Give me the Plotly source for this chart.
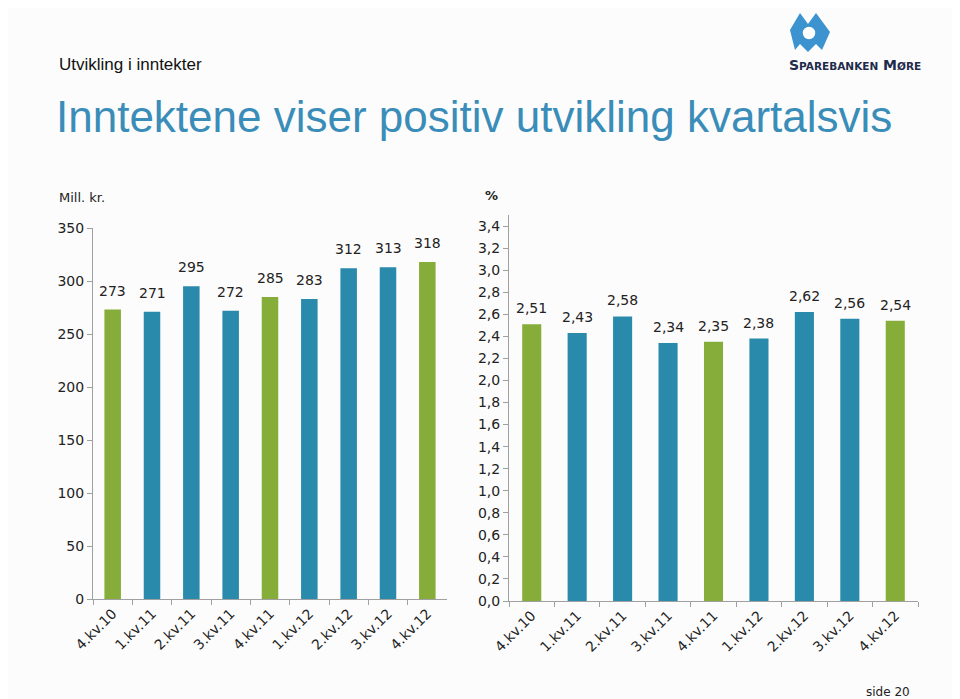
import plotly.graph_objects as go

categories = ["4.kv.10", "1.kv.11", "2.kv.11", "3.kv.11", "4.kv.11", "1.kv.12", "2.kv.12", "3.kv.12", "4.kv.12"]
income_mill = [273, 271, 295, 272, 285, 283, 312, 313, 318]
income_pct = [2.51, 2.43, 2.58, 2.34, 2.35, 2.38, 2.62, 2.56, 2.54]
left_ticks = [0, 50, 100, 150, 200, 250, 300, 350]
right_ticks = [round(i * 0.2, 1) for i in range(18)]

W, H = 960, 699
OFF = 8  # page body offset
GREEN = "#86AD3A"
BLUE = "#2A8AAB"
colors = [GREEN if c.startswith("4.") else BLUE for c in categories]

def px(x):
    return (x - OFF) / W

def py(y):
    return 1 - (y - OFF) / H

fig = go.Figure()
fig.add_trace(go.Bar(x=categories, y=income_mill, marker=dict(color=colors, line=dict(width=0)),
                     xaxis="x", yaxis="y", hoverinfo="skip"))
fig.add_trace(go.Bar(x=categories, y=income_pct, marker=dict(color=colors, line=dict(width=0)),
                     xaxis="x2", yaxis="y2", hoverinfo="skip"))

ann = []
label_font = dict(family="DejaVu Sans, Verdana", size=14, color="#222")
for c, v in zip(categories, income_mill):
    ann.append(dict(x=c, y=v, xref="x", yref="y", text=str(v), showarrow=False,
                    yshift=19, font=label_font))
for c, v in zip(categories, income_pct):
    ann.append(dict(x=c, y=v, xref="x2", yref="y2", text=f"{v:.2f}".replace(".", ","),
                    showarrow=False, yshift=16, font=label_font))

sc = '<span style="font-size:10.5px">'
ann += [
    dict(x=px(57), y=py(64), xref="paper", yref="paper", text="Utvikling i inntekter",
         showarrow=False, xanchor="left", yanchor="middle",
         font=dict(family="Liberation Sans, Arial", size=17, color="#111")),
    dict(x=px(54), y=py(116), xref="paper", yref="paper",
         text="Inntektene viser positiv utvikling kvartalsvis",
         showarrow=False, xanchor="left", yanchor="middle",
         font=dict(family="Liberation Sans, Arial", size=44, color="#3A8DB8")),
    dict(x=px(57), y=py(197), xref="paper", yref="paper", text="Mill. kr.",
         showarrow=False, xanchor="left", yanchor="middle",
         font=dict(family="DejaVu Sans, Verdana", size=13, color="#222")),
    dict(x=px(491), y=py(196), xref="paper", yref="paper", text="<b>%</b>",
         showarrow=False, xanchor="center", yanchor="middle",
         font=dict(family="DejaVu Sans, Verdana", size=13, color="#222")),
    dict(x=px(912), y=py(692), xref="paper", yref="paper", text="side 20",
         showarrow=False, xanchor="right", yanchor="middle",
         font=dict(family="DejaVu Sans, Verdana", size=12, color="#222")),
    dict(x=px(855), y=py(65), xref="paper", yref="paper",
         text=f"<b>S{sc}PAREBANKEN</span> M{sc}ØRE</span></b>",
         showarrow=False, xanchor="center", yanchor="middle",
         font=dict(family="DejaVu Sans", size=14, color="#1E2B4A")),
]

# simplified logo emblem
def pathp(points):
    s = ""
    for i, (x, y) in enumerate(points):
        s += ("M" if i == 0 else "L") + f"{px(x):.5f},{py(y):.5f} "
    return s + "Z"

logo = pathp([(790, 30), (800, 13), (808, 24), (816, 13), (830, 32), (822, 50), (816, 44),
              (808, 52), (800, 44), (795, 50)])
shapes = [
    dict(type="path", path=logo, xref="paper", yref="paper",
         fillcolor="#3C93CF", line=dict(width=0)),
    dict(type="circle", xref="paper", yref="paper", x0=px(802), x1=px(816), y0=py(40), y1=py(26),
         fillcolor="white", line=dict(color="#3C93CF", width=1.5)),
]

tickfont = dict(family="DejaVu Sans, Verdana", size=14, color="#222")
axis_common = dict(showline=True, linecolor="#A0A0A0", linewidth=1, ticks="outside",
                   tickcolor="#A0A0A0", ticklen=5, showgrid=False, zeroline=False,
                   tickfont=tickfont, automargin=False)

fig.update_layout(
    width=W, height=H, margin=dict(l=0, r=0, t=0, b=0, pad=0, autoexpand=False),
    paper_bgcolor="#FCFCFC", plot_bgcolor="rgba(0,0,0,0)",
    showlegend=False, bargap=0.58, separators=", ",
    annotations=ann, shapes=shapes,
    xaxis=dict(domain=[px(93), px(447)], anchor="y", type="category", tickson="boundaries",
               tickangle=-45, **axis_common),
    yaxis=dict(domain=[py(599), py(228)], anchor="x", range=[0, 350], tickvals=left_ticks,
               **axis_common),
    xaxis2=dict(domain=[px(509), px(918)], anchor="y2", type="category", tickson="boundaries",
                tickangle=-45, **axis_common),
    yaxis2=dict(domain=[py(601), py(215)], anchor="x2", range=[0, 3.5], tickvals=right_ticks,
                tickformat=".1f", **axis_common),
)

fig.write_html("out.html")
